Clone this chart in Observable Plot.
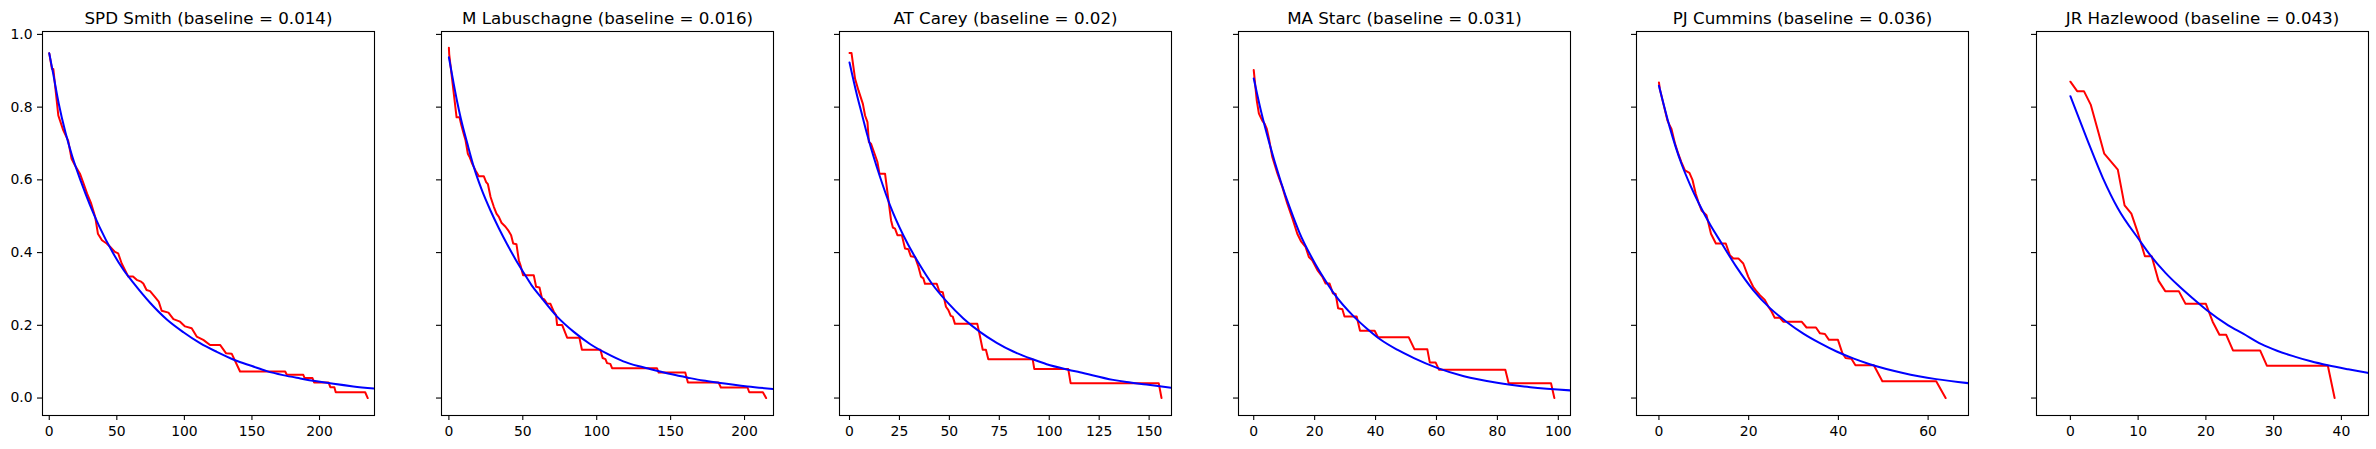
<!DOCTYPE html>
<html>
<head>
<meta charset="utf-8">
<script src="https://cdn.jsdelivr.net/npm/d3@7"></script>
<script src="https://cdn.jsdelivr.net/npm/@observablehq/plot@0.6"></script>
<style>
  html, body { margin: 0; padding: 0; background: white; overflow: hidden; }
  #wrap { position: relative; width: 2376px; height: 449px; }
  #wrap svg { position: absolute; top: 0; }
</style>
</head>
<body>
<div id="wrap"></div>
<script>
// ---- data ----
const names = ["SPD Smith", "M Labuschagne", "AT Carey", "MA Starc", "PJ Cummins", "JR Hazlewood"];
const baselines = ["0.014", "0.016", "0.02", "0.031", "0.036", "0.043"];
const xMax = [235.7, 214.6, 156.2, 99, 64, 39];
const xTicks = [[0,50,100,150,200],[0,50,100,150,200],[0,25,50,75,100,125,150],[0,20,40,60,80,100],[0,20,40,60],[0,10,20,30,40]];
const yTicks = [0, 0.2, 0.4, 0.6, 0.8, 1.0];

const smithRed = [[0,0.948],[2,0.905],[3,0.905],[6.7,0.777],[10.4,0.736],[14,0.708],[16.5,0.658],[19,0.64],[22.7,0.617],[25,0.594],[28,0.562],[31,0.535],[34,0.498],[36,0.452],[39,0.434],[42.5,0.425],[45,0.416],[48.6,0.402],[51,0.398],[53.6,0.37],[56,0.352],[58.5,0.334],[62,0.334],[64.7,0.325],[68,0.32],[69.6,0.315],[72,0.297],[74.6,0.294],[78,0.279],[81,0.265],[83.2,0.24],[88.2,0.235],[91.9,0.217],[96.8,0.21],[100.5,0.197],[105.4,0.192],[109.1,0.169],[114,0.16],[119,0.146],[126.4,0.146],[130.9,0.123],[135,0.122],[141.2,0.073],[174.6,0.073],[175.8,0.064],[188,0.064],[189,0.055],[194.8,0.055],[196,0.043],[206.7,0.043],[208,0.03],[211,0.03],[212,0.016],[233.8,0.016],[235.7,0]];
const smithBlue = [[0,0.948],[3,0.89],[7,0.81],[12,0.73],[17,0.665],[23.5,0.595],[30,0.532],[37,0.472],[47,0.40],[55,0.352],[62,0.318],[74.6,0.262],[87,0.216],[99.3,0.181],[111.6,0.151],[124,0.127],[137.5,0.104],[150,0.088],[161,0.074],[173,0.063],[185.7,0.054],[198,0.046],[210.4,0.039],[225,0.032],[241.2,0.026]];

const labuschagneRed = [[0,0.963],[0.2,0.946],[5.2,0.772],[7.2,0.772],[8.3,0.752],[10,0.727],[11.3,0.708],[12.8,0.672],[14,0.663],[15.8,0.644],[18,0.626],[20.3,0.61],[23.6,0.61],[25.2,0.594],[26.4,0.588],[28.2,0.553],[30.4,0.526],[32.2,0.507],[33.8,0.498],[35.6,0.482],[38.3,0.471],[40.5,0.459],[42.1,0.448],[43.5,0.425],[45.7,0.423],[47.3,0.379],[48.4,0.366],[50.2,0.338],[57.4,0.338],[59,0.306],[61.3,0.304],[63,0.274],[64.6,0.271],[66.4,0.26],[68.7,0.259],[70.9,0.238],[72.5,0.228],[73.2,0.201],[76.6,0.201],[80,0.166],[88.3,0.166],[90,0.133],[102.5,0.133],[104,0.11],[105.9,0.107],[107,0.096],[109.2,0.094],[110.4,0.082],[140.8,0.082],[141.9,0.07],[159.9,0.07],[161.7,0.043],[182.4,0.043],[184,0.029],[202,0.029],[203.2,0.016],[212.4,0.016],[214.6,0]];
const labuschagneBlue = [[0,0.937],[3,0.87],[5.6,0.815],[8,0.77],[12.8,0.695],[16.9,0.635],[22,0.575],[28.2,0.515],[33.8,0.467],[39.4,0.423],[45,0.382],[50.7,0.344],[56,0.31],[62,0.279],[73.2,0.224],[84.5,0.182],[95.7,0.148],[107,0.122],[118,0.101],[128,0.088],[136,0.08],[150,0.066],[161.7,0.056],[172,0.048],[182.4,0.042],[202,0.032],[219.6,0.025]];

const careyRed = [[0,0.949],[1,0.949],[2.8,0.878],[4.5,0.846],[6.7,0.809],[7.8,0.777],[9,0.759],[9.7,0.704],[10.8,0.699],[12.3,0.676],[14,0.649],[15,0.617],[17.8,0.617],[19.5,0.544],[20.8,0.489],[21.7,0.469],[22.8,0.466],[24,0.448],[26.2,0.448],[27.8,0.411],[29.5,0.409],[30.7,0.39],[32.8,0.388],[34.5,0.361],[35.8,0.334],[37,0.329],[37.8,0.314],[43.7,0.314],[45,0.293],[46.7,0.291],[48.3,0.251],[49.5,0.242],[50.7,0.226],[51.7,0.224],[52.8,0.204],[64,0.204],[65,0.178],[66.7,0.133],[68.3,0.133],[69.5,0.107],[91.7,0.107],[92.5,0.08],[109.5,0.08],[110.7,0.041],[154.8,0.041],[156.2,0]];
const careyBlue = [[0,0.923],[3.7,0.834],[6,0.785],[9,0.722],[12,0.665],[15.3,0.608],[20.3,0.53],[27,0.447],[35.3,0.365],[41.2,0.315],[48.7,0.265],[57,0.219],[65.3,0.182],[73.7,0.152],[82,0.128],[92,0.106],[98.7,0.093],[109.5,0.078],[115.3,0.071],[132,0.05],[138.7,0.044],[148.7,0.037],[161.2,0.028]];

const starcRed = [[0,0.902],[1,0.818],[1.7,0.782],[2.8,0.763],[3.6,0.754],[4.3,0.74],[5,0.713],[6.1,0.663],[7.8,0.617],[9.4,0.58],[11,0.535],[12.7,0.494],[14.3,0.452],[15.6,0.43],[17,0.416],[18.1,0.388],[19.2,0.379],[20.9,0.352],[22.5,0.334],[23.6,0.315],[24.9,0.315],[26,0.288],[26.9,0.286],[27.7,0.247],[29.1,0.244],[29.8,0.224],[33.8,0.224],[34.9,0.185],[39.7,0.185],[40.8,0.167],[50.9,0.167],[52.8,0.134],[57,0.134],[57.8,0.098],[59.7,0.098],[60.8,0.078],[82.6,0.078],[83.7,0.041],[97.6,0.041],[98.7,0]];
const starcBlue = [[0,0.879],[2.5,0.785],[5,0.705],[8.9,0.595],[12,0.52],[15,0.455],[19.8,0.375],[23,0.33],[26.3,0.288],[32.9,0.224],[37.3,0.19],[41.6,0.161],[47.1,0.133],[52.6,0.11],[60.2,0.083],[69,0.06],[79.9,0.042],[90.8,0.03],[104,0.021]];

const cumminsRed = [[0,0.868],[0.2,0.85],[1,0.809],[1.9,0.763],[2.4,0.75],[2.8,0.74],[3.6,0.699],[4.3,0.672],[5,0.649],[5.8,0.626],[6.8,0.619],[7.5,0.599],[8.2,0.562],[8.8,0.539],[9.5,0.516],[10.6,0.503],[11.6,0.452],[12.7,0.425],[14.9,0.425],[15.8,0.393],[16.6,0.384],[17.7,0.384],[18.8,0.37],[19.9,0.334],[21,0.306],[21.8,0.293],[22.5,0.283],[23.6,0.27],[24.4,0.251],[25.1,0.238],[25.8,0.221],[26.9,0.221],[27.7,0.21],[31.8,0.21],[32.9,0.194],[35,0.194],[35.9,0.178],[37,0.176],[37.9,0.16],[39.9,0.16],[40.9,0.123],[41.6,0.11],[42.9,0.108],[43.8,0.09],[47.9,0.09],[49.8,0.046],[61.8,0.046],[63.9,0]];
const cumminsBlue = [[0,0.859],[2.4,0.745],[5,0.645],[7,0.585],[9.1,0.53],[11.5,0.475],[14,0.425],[17.3,0.36],[21,0.297],[24.7,0.248],[28.4,0.21],[32.1,0.178],[35.9,0.151],[39.6,0.128],[43.3,0.109],[47,0.093],[54.4,0.069],[61.8,0.052],[68.9,0.041]];

const hazlewoodRed = [[0,0.87],[1,0.844],[2,0.844],[3,0.807],[4,0.74],[5,0.672],[6,0.65],[7,0.628],[8,0.53],[9,0.507],[10,0.452],[11,0.39],[12,0.39],[13,0.323],[14,0.294],[15,0.294],[16,0.294],[17,0.259],[18,0.259],[19,0.259],[20,0.259],[21,0.21],[22,0.174],[23,0.174],[24,0.131],[25,0.131],[26,0.131],[27,0.131],[28,0.131],[29,0.089],[30,0.089],[31,0.089],[32,0.089],[33,0.089],[34,0.089],[35,0.089],[36,0.089],[37,0.089],[38,0.089],[39,0]];
const hazlewoodBlue = [[0,0.83],[2.5,0.71],[4.8,0.605],[7,0.522],[10.2,0.434],[11.7,0.395],[14,0.345],[15.9,0.31],[18,0.275],[20.1,0.242],[23.3,0.2],[25.5,0.177],[28.2,0.148],[30.5,0.13],[33.1,0.114],[35.5,0.101],[38,0.09],[41,0.079],[44,0.069]];

const reds = [smithRed, labuschagneRed, careyRed, starcRed, cumminsRed, hazlewoodRed];
const blues = [smithBlue, labuschagneBlue, careyBlue, starcBlue, cumminsBlue, hazlewoodBlue];

// ---- layout ----
const frameLefts = [42.33, 440.67, 839.33, 1238.33, 1636.33, 2035.67];
const mL = 42, mR = 8, frameW = 332;
const wrap = document.getElementById("wrap");

names.forEach((name, i) => {
  const title = `${name} (baseline = ${baselines[i]})`;
  const chart = Plot.plot({
    width: mL + frameW + mR,
    height: 449,
    marginLeft: mL, marginRight: mR, marginTop: 31, marginBottom: 34,
    style: {fontFamily: "DejaVu Sans", fontSize: "13.9px", fontWeight: "normal", color: "black", background: "white", overflow: "visible"},
    x: {domain: [-5, xMax[i] + 5]},
    y: {domain: [-0.048, 1.008]},
    marks: [
      Plot.line(reds[i], {x: d => d[0], y: d => d[1], stroke: "#ff0000", strokeWidth: 2, clip: true}),
      Plot.line(blues[i], {x: d => d[0], y: d => d[1], stroke: "#0000ff", strokeWidth: 2, curve: "monotone-x", clip: true}),
      Plot.frame({stroke: "black", strokeWidth: 1.1}),
      Plot.axisX({ticks: xTicks[i], tickSize: 5, tickPadding: 5.5, label: null, strokeWidth: 1.1}),
      Plot.axisY({ticks: yTicks, tickSize: 5, tickPadding: 5, label: null, strokeWidth: 1.1,
        tickFormat: i === 0 ? (d => d.toFixed(1)) : (() => "")}),
      Plot.text([title], {text: d => d, frameAnchor: "top", dy: -7.7, lineAnchor: "bottom",
        textAnchor: "middle", fontSize: 16.7, fontWeight: "normal", fill: "black"})
    ]
  });
  chart.style.left = (frameLefts[i] - mL) + "px";
  wrap.appendChild(chart);
});
</script>
</body>
</html>
